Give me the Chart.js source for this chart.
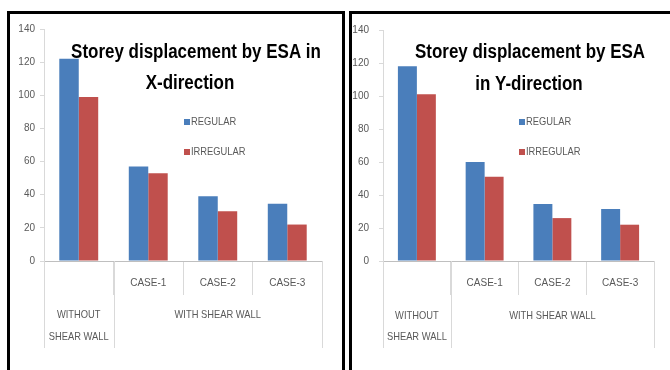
<!DOCTYPE html>
<html>
<head>
<meta charset="utf-8">
<script src="https://cdn.jsdelivr.net/npm/chart.js@4.4.1/dist/chart.umd.min.js"></script>
<style>
  html, body { margin: 0; padding: 0; background: #fff; width: 670px; height: 370px; overflow: hidden; }
  .box { position: absolute; top: 11px; height: 380px; border: 3px solid #000; background: #fff; box-sizing: border-box; }
  #boxX { left: 7px; width: 338px; }
  #boxY { left: 349px; width: 340px; }
  .box canvas { position: absolute; left: 0; top: 0; }
</style>
</head>
<body>
<div class="box" id="boxX"><canvas id="chartX" width="332" height="356"></canvas></div>
<div class="box" id="boxY"><canvas id="chartY" width="318" height="356"></canvas></div>
<script>
// Categories along the x axis and the two-level grouping under them
const categories = ['WITHOUT SHEAR WALL', 'CASE-1', 'CASE-2', 'CASE-3'];
const groupWithout = ['WITHOUT', 'SHEAR WALL'];   // spans category 0
const groupWith = ['WITH SHEAR WALL'];            // spans categories 1..3
const seriesNames = ['REGULAR', 'IRREGULAR'];

// Storey displacement (ESA), X-direction
const xRegular   = [122, 57, 39, 34.5];
const xIrregular = [99, 53, 30, 22];

// Storey displacement (ESA), Y-direction
const yRegular   = [118, 60, 34.5, 31.5];
const yIrregular = [101, 51, 26, 22];

// Value axis
const yMin = 0, yMax = 140, yStep = 20;

const titleX = ['Storey displacement by ESA in', 'X-direction'];
const titleY = ['Storey displacement by ESA', 'in Y-direction'];

const FAMILY = "'Liberation Sans', Arial, sans-serif";
const TICK_FONT = { family: FAMILY, size: 10 };
const TEXT_GREY = '#595959';
const LINE_GREY = '#d9d9d9';
const BLUE = '#4a7ebb';
const RED = '#c0504d';

// text drawn with a horizontal squeeze to get a condensed face
function squeezedText(ctx, text, x, y, sx) {
  ctx.save();
  ctx.translate(x, y);
  ctx.scale(sx, 1);
  ctx.fillText(text, 0, 0);
  ctx.restore();
}

// Draws the overlaid title, the inline legend and the grouped category labels
const decorPlugin = {
  id: 'decor',
  afterDraw(chart, args, opts) {
    const ctx = chart.ctx;
    const xs = chart.scales.x;
    const area = chart.chartArea;
    const half = (xs.getPixelForValue(1) - xs.getPixelForValue(0)) / 2;
    ctx.save();

    // long separators around the first group and the outer edges
    ctx.strokeStyle = LINE_GREY;
    ctx.lineWidth = 1;
    [xs.getPixelForValue(0) - half, xs.getPixelForValue(0) + half, xs.getPixelForValue(3) + half].forEach(px => {
      const x = Math.round(px) + 0.5;
      ctx.beginPath();
      ctx.moveTo(x, area.bottom);
      ctx.lineTo(x, opts.sepBottom);
      ctx.stroke();
    });

    // group labels
    ctx.fillStyle = TEXT_GREY;
    ctx.font = `11px ${FAMILY}`;
    ctx.textAlign = 'center';
    ctx.textBaseline = 'middle';
    const c0 = xs.getPixelForValue(0);
    groupWithout.forEach((t, i) => squeezedText(ctx, t, c0, opts.groupY + i * opts.groupLine, 0.85));
    const cw = (xs.getPixelForValue(1) + xs.getPixelForValue(3)) / 2;
    groupWith.forEach((t, i) => squeezedText(ctx, t, cw, opts.groupY + i * opts.groupLine, 0.85));

    // title
    ctx.fillStyle = '#000';
    ctx.font = `bold 19.5px ${FAMILY}`;
    opts.title.forEach((t, i) => squeezedText(ctx, t, opts.titlePos[i][0], opts.titlePos[i][1], 0.87));

    // legend
    ctx.font = `11px ${FAMILY}`;
    ctx.textAlign = 'left';
    chart.data.datasets.forEach((ds, i) => {
      const lx = opts.legendX, ly = opts.legendY + i * opts.legendGap;
      ctx.fillStyle = ds.backgroundColor;
      ctx.fillRect(lx, ly - 3, 6, 6);
      ctx.fillStyle = TEXT_GREY;
      squeezedText(ctx, ds.label, lx + 7, ly, 0.85);
    });
    ctx.restore();
  }
};

function makeChart(id, regular, irregular, cfg) {
  return new Chart(document.getElementById(id), {
    type: 'bar',
    data: {
      labels: categories,
      datasets: [
        { label: seriesNames[0], data: regular, backgroundColor: BLUE },
        { label: seriesNames[1], data: irregular, backgroundColor: RED }
      ]
    },
    options: {
      responsive: false,
      animation: false,
      datasets: { bar: { barPercentage: 1, categoryPercentage: 0.56 } },
      layout: { padding: { left: 0, right: cfg.padRight, top: 15, bottom: 9 } },
      plugins: {
        legend: { display: false },
        title: { display: false },
        tooltip: { enabled: false },
        decor: cfg.decor
      },
      scales: {
        x: {
          ticks: {
            autoSkip: false, maxRotation: 0,
            color: TEXT_GREY, font: TICK_FONT, padding: -18,
            callback: (v, i) => (i === 0 ? '' : categories[i])
          },
          grid: { offset: true, drawOnChartArea: false, tickLength: 34, color: LINE_GREY },
          border: { color: '#bfbfbf' },
          afterFit(s) { s.height = 100; }
        },
        y: {
          min: yMin, max: yMax,
          ticks: { stepSize: yStep, color: TEXT_GREY, font: TICK_FONT, padding: cfg.labelPad },
          grid: { drawOnChartArea: false, tickLength: 4, color: LINE_GREY },
          border: { color: LINE_GREY },
          afterFit(s) { s.width = cfg.yWidth; }
        }
      }
    },
    plugins: [decorPlugin]
  });
}

makeChart('chartX', xRegular, xIrregular, {
  padRight: 20, yWidth: 34, labelPad: 5,
  decor: {
    title: titleX, titlePos: [[186, 39], [180, 70]],
    legendX: 174, legendY: 108, legendGap: 30,
    groupY: 301, groupLine: 22, sepBottom: 334
  }
});

makeChart('chartY', yRegular, yIrregular, {
  padRight: 16, yWidth: 31, labelPad: 10,
  decor: {
    title: titleY, titlePos: [[178, 39], [177, 71]],
    legendX: 167, legendY: 108, legendGap: 30,
    groupY: 302, groupLine: 21, sepBottom: 334
  }
});
</script>
</body>
</html>
